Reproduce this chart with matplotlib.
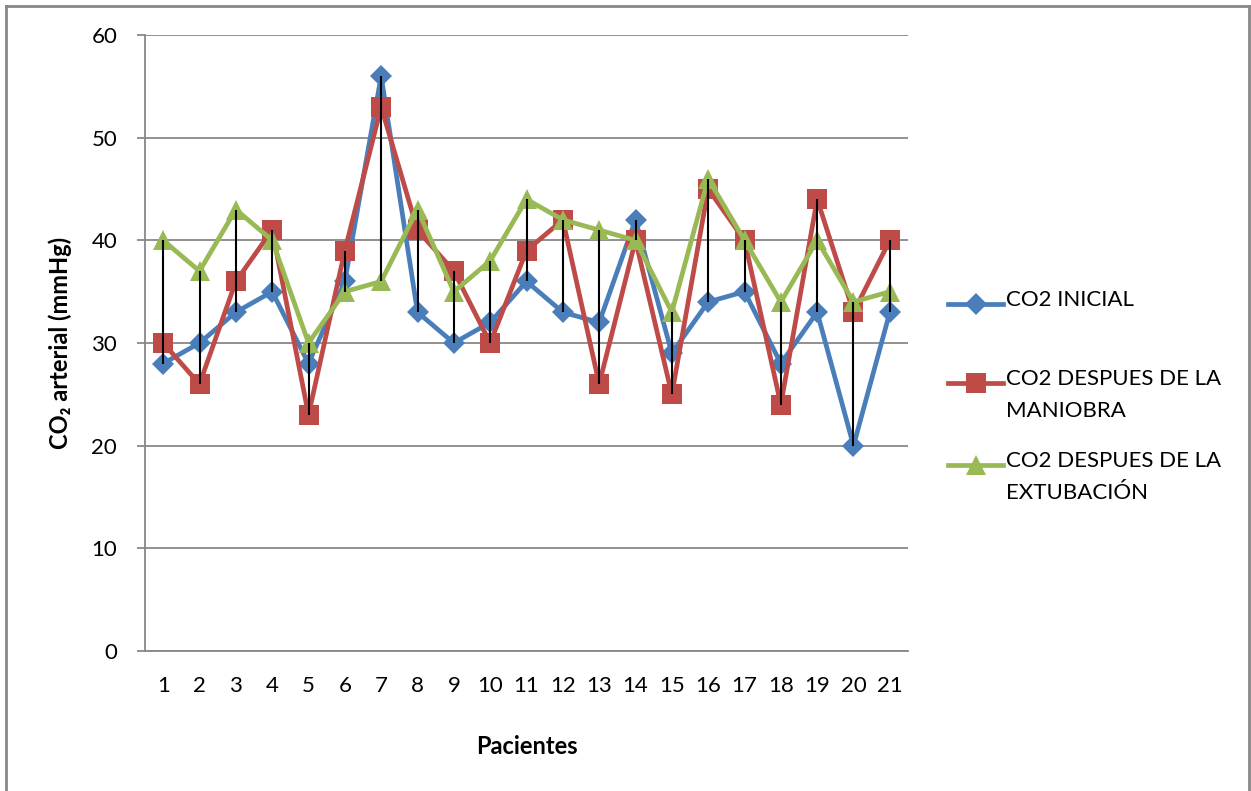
import matplotlib
matplotlib.use("Agg")
import matplotlib.pyplot as plt
from matplotlib.lines import Line2D
import numpy as np

plt.rcParams['font.family'] = ['Lato', 'DejaVu Sans']

pacientes = [str(i) for i in range(1, 22)]
co2_inicial = [28, 30, 33, 35, 28, 36, 56, 33, 30, 32, 36, 33, 32, 42, 29, 34, 35, 28, 33, 20, 33]
co2_maniobra = [30, 26, 36, 41, 23, 39, 53, 41, 37, 30, 39, 42, 26, 40, 25, 45, 40, 24, 44, 33, 40]
co2_extubacion = [40, 37, 43, 40, 30, 35, 36, 43, 35, 38, 44, 42, 41, 40, 33, 46, 40, 34, 40, 34, 35]
labels = ["CO2 INICIAL", "CO2 DESPUES DE LA\nMANIOBRA", "CO2 DESPUES DE LA\nEXTUBACIÓN"]
yticks = [0, 10, 20, 30, 40, 50, 60]

blue = '#4A7EBB'
red = '#BE4B48'
green = '#98B954'
grid = '#888888'

fig = plt.figure(figsize=(12.51, 7.91), dpi=100)
ax = fig.add_axes([145/1251, 1-651/791, (908-145)/1251, (651-35)/791])

x = np.arange(1, len(pacientes) + 1)
series = [co2_inicial, co2_maniobra, co2_extubacion]
colors = [blue, red, green]
markers = ['D', 's', '^']
msizes = [11.5, 14, 14]
for s, c, m, ms in zip(series, colors, markers, msizes):
    ax.plot(x, s, color=c, lw=3.4, marker=m, markersize=ms, markeredgewidth=0,
            zorder=3, solid_joinstyle='round')

arr = np.array(series)
ax.vlines(x, arr.min(axis=0), arr.max(axis=0), colors='black', lw=1.5, zorder=5)

ax.set_xlim(0.5, len(pacientes) + 0.5)
ax.set_ylim(0, 60)
ax.set_yticks(yticks)
ax.set_xticks(x)
ax.set_xticklabels(pacientes)
ax.yaxis.grid(True, color=grid, lw=1.3)
ax.set_axisbelow(True)
for sp in ['top', 'right']:
    ax.spines[sp].set_visible(False)
for sp in ['left', 'bottom']:
    ax.spines[sp].set_color(grid)
    ax.spines[sp].set_linewidth(1.3)
ax.tick_params(axis='y', direction='out', length=6, width=1.3, color=grid,
               labelsize=16, pad=14)
ax.tick_params(axis='x', length=0, labelsize=16, pad=18)

ax.set_xlabel('Pacientes', fontsize=17, fontweight='bold', labelpad=28)
fig.text(60/1251, 1-343/791, 'CO₂ arterial (mmHg)', rotation=90, fontsize=17,
         fontweight='bold', ha='center', va='center')

# legend
leg_y = [304, 383, 465]
for lab, c, m, ms, yy in zip(labels, colors, markers, msizes, leg_y):
    yf = 1 - yy/791
    fig.add_artist(Line2D([948/1251, 1003/1251], [yf, yf], color=c, lw=3.4,
                          transform=fig.transFigure))
    fig.add_artist(Line2D([975.5/1251], [yf], color=c, marker=m, markersize=ms,
                          markeredgewidth=0, transform=fig.transFigure))
    fig.text(1006/1251, yf + 14/791, lab, fontsize=16, va='top', ha='left',
             linespacing=1.75, transform=fig.transFigure)

# outer border
bc = '#888888'
fig.add_artist(Line2D([6/1251, 6/1251], [0, 1-6/791], color=bc, lw=2, transform=fig.transFigure))
fig.add_artist(Line2D([6/1251, 1249/1251], [1-6/791, 1-6/791], color=bc, lw=2, transform=fig.transFigure))
fig.add_artist(Line2D([1249/1251, 1249/1251], [0, 1-6/791], color=bc, lw=2, transform=fig.transFigure))

fig.savefig('out.png', dpi=100)
